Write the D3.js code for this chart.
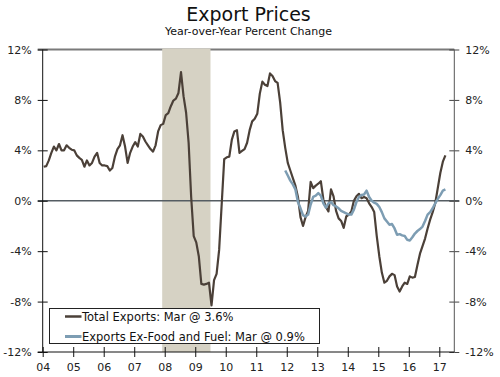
<!DOCTYPE html>
<html><head><meta charset="utf-8">
<script src="https://cdn.jsdelivr.net/npm/d3@7"></script>
<style>body{margin:0;background:#fff}svg{display:block}text{font-family:"DejaVu Sans",Verdana,sans-serif;fill:#222}</style>
</head><body><svg id="c" width="500" height="377"></svg>
<script>
// Monthly data, Jan 2004 .. Mar 2017
const startYear = 2004;
const totalExports = [
 2.7, 2.75, 3.2, 3.8, 4.3, 4.0, 4.5, 4.0, 4.0, 4.4, 4.2, 4.05,
 4.0, 3.6, 3.4, 3.25, 2.7, 3.2, 2.8, 3.0, 3.5, 3.8, 3.0, 2.8,
 2.8, 2.75, 2.4, 2.6, 3.5, 4.1, 4.4, 5.2, 4.3, 3.0, 3.8, 4.3,
 4.65, 4.3, 5.3, 5.1, 4.7, 4.4, 4.1, 3.9, 4.4, 5.5, 6.0, 6.1,
 6.8, 6.95, 7.5, 7.95, 8.1, 8.55, 10.2, 8.3, 7.0, 4.6, 0.3, -2.8,
 -3.3, -4.4, -6.6, -6.65, -6.6, -6.5, -8.3, -6.3, -5.8, -3.9, -0.3, 3.3,
 3.45, 3.5, 4.85, 5.5, 5.6, 3.8, 3.95, 4.1, 4.6, 5.6, 6.3, 6.5,
 6.9, 8.5, 9.45, 9.2, 9.1, 10.1, 9.9, 9.5, 9.35, 7.8, 5.6, 4.2,
 3.0, 2.4, 1.8, 1.2, 0.3, -1.3, -2.0, -1.3, -0.8, 1.5, 1.0, 1.2,
 1.35, 1.55, 0.1, -0.5, -0.85, 0.9, 0.35, -0.8, -1.4, -1.6, -2.15, -1.25,
 -1.1, -0.85, 0.0, 0.35, 0.55, 0.2, 0.3, 0.2, -0.2, -0.5, -0.9, -2.8,
 -4.4, -5.7, -6.5, -6.35, -6.0, -5.8, -5.9, -6.8, -7.2, -6.8, -6.5, -6.6,
 -6.0, -6.1, -6.05, -5.1, -4.2, -3.6, -3.0, -2.2, -1.5, -0.9, -0.2, 1.0,
 2.2, 3.1, 3.6
];
// Exports ex-food and fuel, starting Dec 2011 (month index 95)
const exFoodFuelStart = 95;
const exFoodFuel = [
 2.4,
 2.0, 1.6, 1.3, 0.9, -0.1, -0.6, -1.15, -1.25, -1.1, -0.3, 0.3, 0.4,
 0.6, 0.4, -0.2, -0.55, -0.2, -0.1, -0.35, -0.45, -0.6, -0.8, -0.9, -1.0,
 -1.1, -1.1, -0.7, -0.1, 0.3, 0.45, 0.5, 0.8, 0.3, 0.0, -0.15, -0.25,
 -0.5, -0.9, -1.4, -1.65, -1.9, -1.85, -2.2, -2.7, -2.65, -2.75, -2.8, -3.1,
 -3.15, -2.9, -2.6, -2.4, -2.25, -2.05, -1.6, -1.1, -0.9, -0.6, -0.2, 0.15,
 0.45, 0.8, 0.9
];
const yTicks = [-12, -8, -4, 0, 4, 8, 12];
const xTickYears = [2004,2005,2006,2007,2008,2009,2010,2011,2012,2013,2014,2015,2016,2017];
const xTickLabels = ["04","05","06","07","08","09","10","11","12","13","14","15","16","17"];
const recession = [2007 + 11/12, 2009 + 6/12];
const legendLabels = ["Total Exports: Mar @ 3.6%", "Exports Ex-Food and Fuel: Mar @ 0.9%"];

const brown = "#4b4038", blue = "#7d9db3";
const svg = d3.select("#c");
const x = d3.scaleLinear().domain([2004, 2017]).range([42.7, 439.3]);
const y = d3.scaleLinear().domain([-12, 12]).range([352, 49.5]);
const xL = 42.7, xR = 454.3;
const monthPos = m => startYear + (m + 0.4) / 12;

// title
svg.append("text").attr("x", 248.5).attr("y", 21).attr("text-anchor", "middle")
  .style("font-size", "19px").style("fill", "#111").text("Export Prices");
svg.append("text").attr("x", 248.5).attr("y", 35).attr("text-anchor", "middle")
  .style("font-size", "11px").style("fill", "#111").text("Year-over-Year Percent Change");

// top 12% line (under shading)
svg.append("line").attr("x1", xL - 5).attr("x2", xR).attr("y1", y(12)).attr("y2", y(12))
  .attr("stroke", "#7a7a7a").attr("stroke-width", 2);

// recession shading
svg.append("rect").attr("x", x(recession[0])).attr("y", y(12) - 1)
  .attr("width", x(recession[1]) - x(recession[0])).attr("height", y(-12) - y(12) + 1)
  .attr("fill", "#d6d2c4");

// zero line
svg.append("line").attr("x1", xL - 5).attr("x2", xR + 5).attr("y1", y(0)).attr("y2", y(0))
  .attr("stroke", "#555d63").attr("stroke-width", 1.5);

// series
const line = d3.line().x(d => x(d[0])).y(d => y(d[1]));
const totalPts = totalExports.map((v, i) => [monthPos(i), v]);
const exPts = exFoodFuel.map((v, i) => [monthPos(exFoodFuelStart + i), v]);
svg.append("path").attr("d", line(totalPts)).attr("fill", "none")
  .attr("stroke", brown).attr("stroke-width", 2.2).attr("stroke-linejoin", "round");
svg.append("path").attr("d", line(exPts)).attr("fill", "none")
  .attr("stroke", blue).attr("stroke-width", 2.5).attr("stroke-linejoin", "round");

// axes
function styleAxis(g, color) {
  g.select(".domain").remove();
  g.selectAll("line").attr("stroke", color);
  g.selectAll("text").style("font-size", "11px").style("fill", "#222").attr("font-family", null);
}
const fmt = d => d + "%";
// left
svg.append("g").attr("transform", `translate(${xL},0)`)
  .call(d3.axisLeft(y).tickValues(yTicks).tickFormat(fmt).tickSize(5).tickPadding(6))
  .call(g => styleAxis(g, "#111"));
svg.append("g").attr("transform", `translate(${xL},0)`)
  .call(d3.axisRight(y).tickValues(yTicks).tickFormat("").tickSize(5))
  .call(g => styleAxis(g, "#111"));
svg.append("line").attr("x1", xL).attr("x2", xL).attr("y1", y(12)).attr("y2", y(-12)).attr("stroke", "#111");
// right
svg.append("g").attr("transform", `translate(${xR},0)`)
  .call(d3.axisRight(y).tickValues(yTicks).tickFormat(fmt).tickSize(5).tickPadding(6))
  .call(g => styleAxis(g, "#444"));
svg.append("g").attr("transform", `translate(${xR},0)`)
  .call(d3.axisLeft(y).tickValues(yTicks).tickFormat("").tickSize(5))
  .call(g => styleAxis(g, "#444"));
svg.append("line").attr("x1", xR).attr("x2", xR).attr("y1", y(12)).attr("y2", y(-12)).attr("stroke", "#555");
// bottom
const yB = y(-12);
svg.append("g").attr("transform", `translate(0,${yB})`)
  .call(d3.axisBottom(x).tickValues(xTickYears).tickFormat((d, i) => xTickLabels[i]).tickSize(5).tickPadding(6))
  .call(g => styleAxis(g, "#111"));
svg.append("g").attr("transform", `translate(0,${yB})`)
  .call(d3.axisTop(x).tickValues(xTickYears).tickFormat("").tickSize(5))
  .call(g => styleAxis(g, "#111"));
svg.append("line").attr("x1", xL - 5).attr("x2", xR).attr("y1", yB).attr("y2", yB).attr("stroke", "#111");

// legend
const lg = svg.append("g");
lg.append("rect").attr("x", 49.5).attr("y", 308.5).attr("width", 270).attr("height", 35)
  .attr("fill", "#fff").attr("stroke", "#222");
[[brown, 2.5], [blue, 3]].forEach((c, i) => {
  const cy = 316.5 + i * 20;
  lg.append("line").attr("x1", 65).attr("x2", 81.5).attr("y1", cy).attr("y2", cy)
    .attr("stroke", c[0]).attr("stroke-width", c[1]);
  lg.append("text").attr("x", 82).attr("y", 320.5 + i * 20).style("font-size", "11.5px")
    .style("fill", "#111").text(legendLabels[i]);
});
</script></body></html>
